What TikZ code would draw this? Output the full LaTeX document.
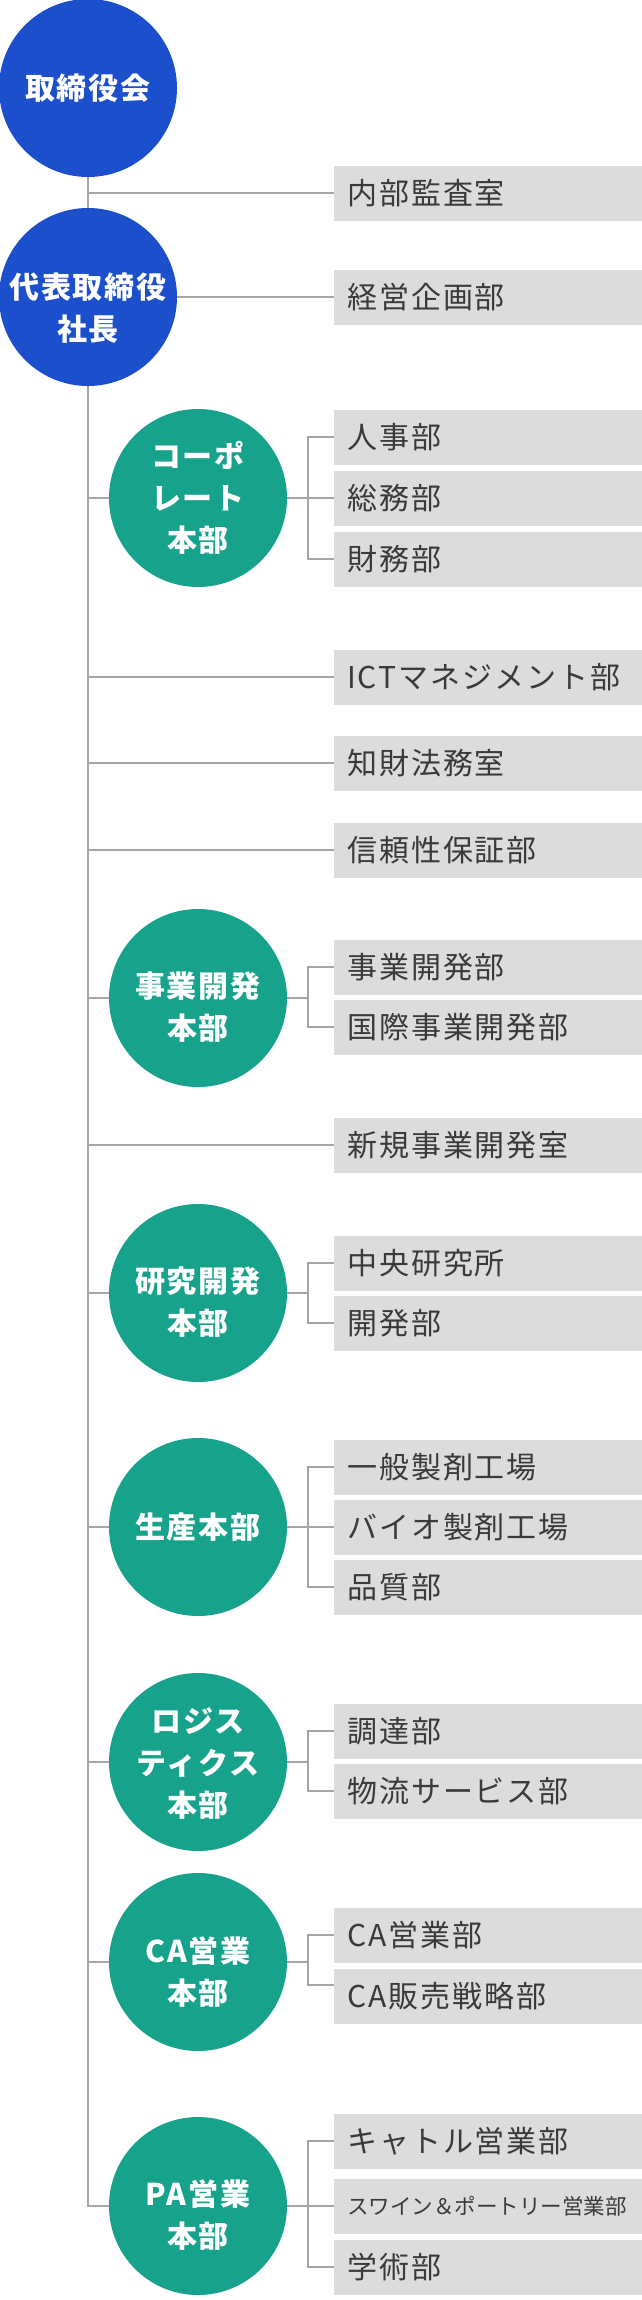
\documentclass[tikz,border=0pt]{standalone}
\usepackage{fontspec}
\newfontfamily\jpfont{Noto Sans CJK JP}[LetterSpace=6.5]
\newfontfamily\jpplain{Noto Sans CJK JP}
\usetikzlibrary{backgrounds}
\definecolor{cblue}{HTML}{1B4FCB}
\definecolor{cteal}{HTML}{17A38B}
\definecolor{boxgray}{HTML}{DCDCDC}
\definecolor{linegray}{HTML}{A6A6A6}
\definecolor{txtgray}{HTML}{3A3A3A}
\newcommand\orgbx[1]{\makebox[282pt][l]{#1}}
\begin{document}
\begin{tikzpicture}[x=1pt,y=-1pt,
  bluec/.style={circle,fill=cblue,minimum size=178pt,inner sep=0pt},
  tealc/.style={circle,fill=cteal,minimum size=178pt,inner sep=0pt},
  ctext/.style={text=white,font=\jpfont\bfseries\fontsize{30}{42}\selectfont,align=center,inner sep=0pt},
  dept/.style={fill=boxgray,anchor=west,minimum height=55pt,inner xsep=13pt,inner ysep=0pt,text=txtgray,font=\jpfont\fontsize{30}{36}\selectfont},
  deptsmall/.style={dept,font=\jpplain\fontsize{21.5}{26}\selectfont},
  conn/.style={draw=linegray,line width=2.4pt}]
\useasboundingbox (0,0) rectangle (642,2300);

% top circles
\node[bluec] (board) at (88,88) {};
\node[ctext] (boardT) at (88,88) {取締役会};
\node[bluec] (pres) at (88,297) {};
\node[ctext] (presT) at (88,308) {代表取締役\\社長};

% direct departments
\node[dept] (naibu) at (334,193) {\orgbx{内部監査室}};
\node[dept] (keiei) at (334,297) {\orgbx{経営企画部}};
\node[dept] (ict) at (334,677) {\orgbx{ICTマネジメント部}};
\node[dept] (chizai) at (334,763) {\orgbx{知財法務室}};
\node[dept] (shinrai) at (334,850) {\orgbx{信頼性保証部}};
\node[dept] (shinki) at (334,1145) {\orgbx{新規事業開発室}};

% corporate
\node[tealc] (corp) at (198,498) {};
\node[ctext] (corpT) at (198,498) {コーポ\\レート\\本部};
\node[dept] (jinji) at (334,437) {\orgbx{人事部}};
\node[dept] (somu) at (334,498) {\orgbx{総務部}};
\node[dept] (zaimu) at (334,559) {\orgbx{財務部}};

% business development
\node[tealc] (jigyo) at (198,998) {};
\node[ctext] (jigyoT) at (198,1007) {事業開発\\本部};
\node[dept] (jigyoB) at (334,967) {\orgbx{事業開発部}};
\node[dept] (kokusai) at (334,1027) {\orgbx{国際事業開発部}};

% R&D
\node[tealc] (kenkyu) at (198,1293) {};
\node[ctext] (kenkyuT) at (198,1302) {研究開発\\本部};
\node[dept] (chuo) at (334,1263) {\orgbx{中央研究所}};
\node[dept] (kaihatsu) at (334,1323) {\orgbx{開発部}};

% production
\node[tealc] (seisan) at (198,1527) {};
\node[ctext] (seisanT) at (198,1527) {生産本部};
\node[dept] (ippan) at (334,1467) {\orgbx{一般製剤工場}};
\node[dept] (bio) at (334,1527) {\orgbx{バイオ製剤工場}};
\node[dept] (hinshitsu) at (334,1587) {\orgbx{品質部}};

% logistics
\node[tealc] (logi) at (198,1762) {};
\node[ctext] (logiT) at (198,1763) {ロジス\\ティクス\\本部};
\node[dept] (chotatsu) at (334,1731) {\orgbx{調達部}};
\node[dept] (butsuryu) at (334,1791) {\orgbx{物流サービス部}};

% CA
\node[tealc] (ca) at (198,1962) {};
\node[ctext] (caT) at (198,1972) {CA営業\\本部};
\node[dept] (caeig) at (334,1935) {\orgbx{CA営業部}};
\node[dept] (cahan) at (334,1996) {\orgbx{CA販売戦略部}};

% PA
\node[tealc] (pa) at (198,2206) {};
\node[ctext] (paT) at (198,2215) {PA営業\\本部};
\node[dept] (cattle) at (334,2141) {\orgbx{キャトル営業部}};
\node[deptsmall] (swine) at (334,2206) {\orgbx{スワイン＆ポートリー営業部}};
\node[dept] (gaku) at (334,2267) {\orgbx{学術部}};

% trunk coordinates
\coordinate (trunkEnd) at (88,2206);
\coordinate (tNaibu) at (88,193);
\coordinate (tCorp) at (88,498);
\coordinate (tIct) at (88,677);
\coordinate (tChizai) at (88,763);
\coordinate (tShinrai) at (88,850);
\coordinate (tJigyo) at (88,998);
\coordinate (tShinki) at (88,1145);
\coordinate (tKenkyu) at (88,1293);
\coordinate (tSeisan) at (88,1527);
\coordinate (tLogi) at (88,1762);
\coordinate (tCa) at (88,1962);
% bracket coordinates
\coordinate (bCorp) at (308,498);
\coordinate (bJigyo) at (308,998);
\coordinate (bKenkyu) at (308,1293);
\coordinate (bSeisan) at (308,1527);
\coordinate (bLogi) at (308,1762);
\coordinate (bCa) at (308,1962);
\coordinate (bCaBot) at (308,1985);
\coordinate (bPa) at (308,2206);

\begin{pgfonlayer}{background}
\draw[conn] (board.center) -- (trunkEnd) -- (pa.west);
\draw[conn] (tNaibu) -- (naibu.west);
\draw[conn] (pres.east) -- (keiei.west);
\draw[conn] (tCorp) -- (corp.west);
\draw[conn] (tIct) -- (ict.west);
\draw[conn] (tChizai) -- (chizai.west);
\draw[conn] (tShinrai) -- (shinrai.west);
\draw[conn] (tJigyo) -- (jigyo.west);
\draw[conn] (tShinki) -- (shinki.west);
\draw[conn] (tKenkyu) -- (kenkyu.west);
\draw[conn] (tSeisan) -- (seisan.west);
\draw[conn] (tLogi) -- (logi.west);
\draw[conn] (tCa) -- (ca.west);

\draw[conn] (corp.east) -- (somu.west);
\draw[conn] (jinji.west) -| (bCorp |- zaimu.west) -- (zaimu.west);

\draw[conn] (jigyo.east) -- (bJigyo);
\draw[conn] (jigyoB.west) -| (bJigyo |- kokusai.west) -- (kokusai.west);

\draw[conn] (kenkyu.east) -- (bKenkyu);
\draw[conn] (chuo.west) -| (bKenkyu |- kaihatsu.west) -- (kaihatsu.west);

\draw[conn] (seisan.east) -- (bio.west);
\draw[conn] (ippan.west) -| (bSeisan |- hinshitsu.west) -- (hinshitsu.west);

\draw[conn] (logi.east) -- (bLogi);
\draw[conn] (chotatsu.west) -| (bLogi |- butsuryu.west) -- (butsuryu.west);

\draw[conn] (ca.east) -- (bCa);
\draw[conn] (caeig.west) -| (bCaBot) -- (bCaBot -| cahan.west);

\draw[conn] (pa.east) -- (swine.west);
\draw[conn] (cattle.west) -| (bPa |- gaku.west) -- (gaku.west);
\end{pgfonlayer}
\end{tikzpicture}
\end{document}
